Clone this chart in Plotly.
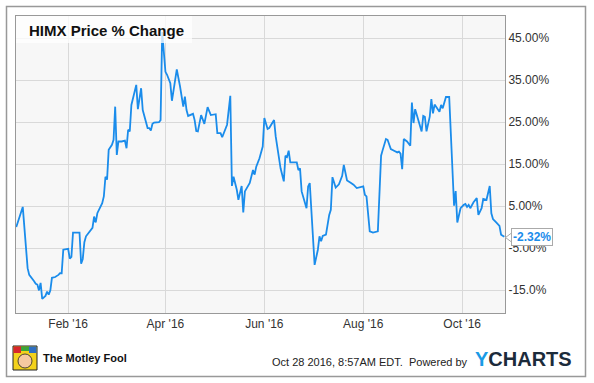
import plotly.graph_objects as go

dates = [
    "2015-12-31", "2016-01-04", "2016-01-07", "2016-01-08", "2016-01-11", "2016-01-12",
    "2016-01-13", "2016-01-14", "2016-01-15", "2016-01-16", "2016-01-18", "2016-01-19",
    "2016-01-20", "2016-01-21", "2016-01-22", "2016-01-24", "2016-01-26", "2016-01-27",
    "2016-01-28", "2016-01-29", "2016-02-01", "2016-02-02", "2016-02-03", "2016-02-04",
    "2016-02-05", "2016-02-08", "2016-02-09", "2016-02-10", "2016-02-11", "2016-02-12",
    "2016-02-16", "2016-02-17", "2016-02-18", "2016-02-19", "2016-02-22", "2016-02-23",
    "2016-02-24", "2016-02-25", "2016-02-26", "2016-02-28", "2016-02-29", "2016-03-01",
    "2016-03-02", "2016-03-03", "2016-03-05", "2016-03-07", "2016-03-08", "2016-03-09",
    "2016-03-10", "2016-03-11", "2016-03-14", "2016-03-15", "2016-03-17", "2016-03-18",
    "2016-03-21", "2016-03-22", "2016-03-23", "2016-03-24", "2016-03-25", "2016-03-28",
    "2016-03-29", "2016-03-30", "2016-04-01", "2016-04-02", "2016-04-04", "2016-04-05",
    "2016-04-07", "2016-04-08", "2016-04-10", "2016-04-12", "2016-04-13", "2016-04-14",
    "2016-04-15", "2016-04-18", "2016-04-19", "2016-04-20", "2016-04-21", "2016-04-23",
    "2016-04-25", "2016-04-27", "2016-04-29", "2016-05-02", "2016-05-03", "2016-05-05",
    "2016-05-06", "2016-05-08", "2016-05-09", "2016-05-11", "2016-05-12", "2016-05-13",
    "2016-05-15", "2016-05-16", "2016-05-18", "2016-05-19", "2016-05-20", "2016-05-23",
    "2016-05-25", "2016-05-26", "2016-05-27", "2016-05-29", "2016-05-31", "2016-06-01",
    "2016-06-03", "2016-06-04", "2016-06-07", "2016-06-08", "2016-06-11", "2016-06-13",
    "2016-06-14", "2016-06-15", "2016-06-16", "2016-06-17", "2016-06-21", "2016-06-22",
    "2016-06-23", "2016-06-24", "2016-06-27", "2016-06-28", "2016-06-29", "2016-07-02",
    "2016-07-04", "2016-07-05", "2016-07-06", "2016-07-07", "2016-07-09", "2016-07-11",
    "2016-07-12", "2016-07-13", "2016-07-15", "2016-07-17", "2016-07-19", "2016-07-20",
    "2016-07-22", "2016-07-24", "2016-07-26", "2016-07-28", "2016-07-30", "2016-08-01",
    "2016-08-02", "2016-08-03", "2016-08-05", "2016-08-07", "2016-08-10", "2016-08-12",
    "2016-08-13", "2016-08-15", "2016-08-16", "2016-08-18", "2016-08-20", "2016-08-22",
    "2016-08-23", "2016-08-24", "2016-08-25", "2016-08-26", "2016-08-28", "2016-08-30",
    "2016-08-31", "2016-09-01", "2016-09-02", "2016-09-04", "2016-09-06", "2016-09-07",
    "2016-09-08", "2016-09-09", "2016-09-11", "2016-09-12", "2016-09-13", "2016-09-14",
    "2016-09-17", "2016-09-18", "2016-09-19", "2016-09-21", "2016-09-23", "2016-09-26",
    "2016-09-27", "2016-09-28", "2016-09-30", "2016-10-02", "2016-10-03", "2016-10-04",
    "2016-10-05", "2016-10-06", "2016-10-08", "2016-10-10", "2016-10-11", "2016-10-13",
    "2016-10-14", "2016-10-16", "2016-10-18", "2016-10-19", "2016-10-20", "2016-10-22",
    "2016-10-24", "2016-10-25", "2016-10-27",
]

pct_change = [
    0.0, 4.8, -9.8, -11.4, -12.9, -13.5,
    -13.7, -15.1, -13.3, -17.1, -16.4, -15.4,
    -16.1, -15.1, -12.1, -11.9, -11.4, -11.0,
    -11.0, -5.4, -5.2, -7.5, -7.1, -1.3,
    -1.3, -1.3, -8.7, -7.6, -3.6, -2.2,
    -0.2, 2.5, 1.1, 3.3, 5.7, 7.3,
    12.0, 11.3, 18.4, 19.6, 20.8, 28.7,
    17.2, 20.4, 20.4, 20.6, 18.8, 23.2,
    22.8, 29.1, 33.9, 28.1, 33.1, 27.9,
    23.6, 23.6, 23.0, 24.6, 24.9, 25.0,
    25.5, 46.5, 37.0, 36.3, 34.3, 30.1,
    35.1, 37.6, 33.5, 28.7, 31.1, 27.9,
    26.5, 27.0, 25.5, 22.9, 22.8, 26.7,
    24.6, 28.6, 26.7, 26.9, 22.4, 22.4,
    21.4, 23.6, 24.4, 31.3, 9.8, 12.0,
    8.9, 6.5, 9.8, 3.5, 8.5, 10.5,
    13.6, 12.5, 14.4, 16.4, 19.2, 26.0,
    23.4, 23.6, 25.5, 21.6, 14.0, 10.9,
    17.0, 16.7, 18.2, 15.4, 15.4, 13.6,
    14.0, 8.5, 4.5, 9.7, 10.5, -9.0,
    -5.4, -2.2, -3.4, -2.1, -1.8, 2.9,
    4.1, 11.9, 9.4, 10.2, 12.2, 14.8,
    11.1, 10.6, 10.1, 9.3, 9.5, 9.7,
    7.7, 7.3, -1.0, -1.3, -1.0, 17.0,
    18.4, 21.0, 20.8, 18.6, 18.2, 17.8,
    18.0, 17.5, 13.8, 21.0, 20.4, 19.4,
    29.7, 24.8, 28.1, 25.1, 22.8, 26.5,
    26.3, 22.8, 26.3, 30.5, 27.1, 29.2,
    27.5, 29.1, 28.3, 31.0, 31.0, 5.1,
    8.6, 1.1, 4.5, 5.3, 5.5, 4.8,
    5.3, 4.5, 5.9, 6.9, 2.9, 4.5,
    6.7, 6.5, 9.8, 3.3, 1.9, 1.1,
    0.3, -1.8, -2.32,
]

x_tick_vals = ["2016-02-01", "2016-04-01", "2016-06-01", "2016-08-01", "2016-10-01"]
x_tick_text = ["Feb '16", "Apr '16", "Jun '16", "Aug '16", "Oct '16"]
y_tick_vals = [-15, -5, 5, 15, 25, 35, 45]
y_tick_text = ["-15.0%", "-5.00%", "5.00%", "15.00%", "25.00%", "35.00%", "45.00%"]

title_text = "HIMX Price % Change"
last_label = "-2.32%"
stamp_text = "Oct 28 2016, 8:57AM EDT.  Powered by"

# ---- layout geometry (pixels) ----
W, H = 594, 383
L, R, T, B = 16, 505, 16, 313


def px(x):
    return (x - L) / (R - L)


def py(y):
    return (B - y) / (B - T)


LINE_BLUE = "#1a8ceb"
FONT = "Arial, 'Liberation Sans', Helvetica, sans-serif"

fig = go.Figure()
fig.add_trace(go.Scatter(
    x=dates, y=pct_change, mode="lines",
    line=dict(color=LINE_BLUE, width=1.8),
    hoverinfo="skip",
))

fig.update_layout(
    width=W, height=H,
    margin=dict(l=L, r=W - R, t=T, b=H - B),
    paper_bgcolor="white",
    plot_bgcolor="#f7f7f7",
    showlegend=False,
    font=dict(family=FONT, size=12, color="#333333"),
)

fig.update_xaxes(
    type="date",
    range=["2015-12-30 20:00", "2016-10-27 10:00"],
    tickmode="array", tickvals=x_tick_vals, ticktext=x_tick_text,
    showgrid=True, gridcolor="#d9d9d9", gridwidth=1,
    showline=True, mirror=True, linecolor="#999999", linewidth=1,
    ticks="", tickfont=dict(size=12, color="#333333"),
    zeroline=False, fixedrange=True,
)
fig.update_yaxes(
    side="right",
    range=[-20.48, 50.31],
    tickmode="array", tickvals=y_tick_vals, ticktext=y_tick_text,
    showgrid=True, gridcolor="#d9d9d9", gridwidth=1,
    showline=True, mirror=True, linecolor="#999999", linewidth=1,
    ticks="", tickfont=dict(size=12, color="#333333"),
    zeroline=False, fixedrange=True,
)

shapes = [
    # translucent title box
    dict(type="rect", xref="paper", yref="paper",
         x0=px(16), x1=px(192), y0=py(43), y1=py(16),
         fillcolor="rgba(255,255,255,0.75)", line=dict(width=0), layer="above"),
    # outer frame
    dict(type="rect", xref="paper", yref="paper",
         x0=px(6.5), x1=px(585.5), y0=py(376.5), y1=py(6.5),
         fillcolor="rgba(0,0,0,0)", line=dict(color="#999999", width=1.5)),
    # pointer of last-value label
    dict(type="path", xref="paper", yref="paper",
         path=f"M {px(511.5)} {py(233)} L {px(505.5)} {py(237.5)} L {px(511.5)} {py(242)} Z",
         fillcolor="white", line=dict(color="#aaaaaa", width=1)),
    # Motley Fool logo approximation
    dict(type="rect", xref="paper", yref="paper",
         x0=px(13), x1=px(37), y0=py(370), y1=py(346),
         fillcolor="#f3d21c", line=dict(color="#222222", width=1)),
    dict(type="rect", xref="paper", yref="paper",
         x0=px(13.5), x1=px(21), y0=py(353), y1=py(346.5),
         fillcolor="#d8262b", line=dict(width=0)),
    dict(type="rect", xref="paper", yref="paper",
         x0=px(29), x1=px(36.5), y0=py(353), y1=py(346.5),
         fillcolor="#2f6fc2", line=dict(width=0)),
    dict(type="rect", xref="paper", yref="paper",
         x0=px(21), x1=px(29), y0=py(351), y1=py(346.5),
         fillcolor="#3aa53a", line=dict(width=0)),
    dict(type="circle", xref="paper", yref="paper",
         x0=px(18), x1=px(32), y0=py(368), y1=py(354),
         fillcolor="#f6c9a0", line=dict(color="#222222", width=0.8)),
]

annotations = [
    dict(xref="paper", yref="paper", x=px(27), y=py(30), xanchor="left", yanchor="middle",
         text=f"<b>{title_text}</b>", showarrow=False,
         font=dict(family=FONT, size=15, color="#111111")),
    dict(xref="paper", yref="y", x=px(511), y=pct_change[-1], xanchor="left", yanchor="middle",
         text=f"<b>{last_label}</b>", showarrow=False,
         font=dict(family=FONT, size=12, color=LINE_BLUE),
         bgcolor="white", bordercolor="#aaaaaa", borderwidth=1, borderpad=1),
    dict(xref="paper", yref="paper", x=px(41), y=py(358), xanchor="left", yanchor="middle",
         text="<b>The Motley Fool</b>", showarrow=False,
         font=dict(family=FONT, size=11, color="#111111")),
    dict(xref="paper", yref="paper", x=px(470), y=py(362), xanchor="right", yanchor="middle",
         text=stamp_text, showarrow=False,
         font=dict(family=FONT, size=11, color="#222222")),
    dict(xref="paper", yref="paper", x=px(473), y=py(359), xanchor="left", yanchor="middle",
         text='<b><span style="color:#1a9be6">Y</span>CHARTS</b>', showarrow=False,
         font=dict(family=FONT, size=20, color="#1c2b3b")),
]

fig.update_layout(shapes=shapes, annotations=annotations)

fig.write_html("out.html", config={"displayModeBar": False})
